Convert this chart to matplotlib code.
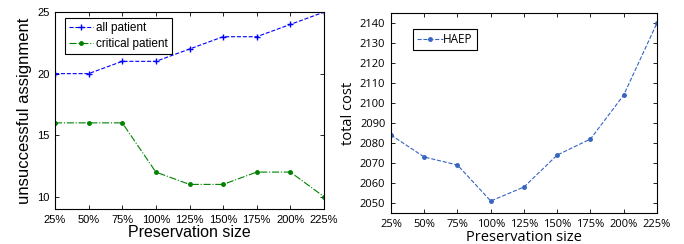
import matplotlib.pyplot as plt

# data
sizes = ['25%', '50%', '75%', '100%', '125%', '150%', '175%', '200%', '225%']
all_patient = [20, 20, 21, 21, 22, 23, 23, 24, 25]
critical_patient = [16, 16, 16, 12, 11, 11, 12, 12, 10]
haep_cost = [2084, 2073, 2069, 2051, 2058, 2074, 2082, 2104, 2140]

x = list(range(len(sizes)))

fig = plt.figure(figsize=(6.84, 2.44), dpi=100)
ax1 = fig.add_axes([0.0804, 0.1434, 0.3933, 0.807])
ax2 = fig.add_axes([0.5716, 0.127, 0.3889, 0.8197])

left_font = 'Liberation Sans'
right_font = 'Open Sans'

# left panel
ax1.plot(x, all_patient, '--+', color='blue', lw=0.8, ms=5, label='all patient')
ax1.plot(x, critical_patient, '-.', marker='.', color='green', lw=0.8, ms=5,
         label='critical patient')
ax1.set_xlim(0, len(sizes) - 1)
ax1.set_ylim(9, 25)
ax1.set_yticks([10, 15, 20, 25])
ax1.set_xticks(x)
ax1.set_xticklabels(sizes)
ax1.set_ylabel('unsuccessful assignment', fontsize=12, labelpad=4, family=left_font)
ax1.set_xlabel('Preservation size', fontsize=11.5, labelpad=0, family=left_font)
leg1 = ax1.legend(loc='upper left', prop={'family': left_font, 'size': 8.5},
                  fancybox=False, framealpha=1, edgecolor='black',
                  handlelength=2.0, handletextpad=0.3, borderpad=0.35,
                  labelspacing=0.35, borderaxespad=0,
                  bbox_to_anchor=(0.037, 0.97))
leg1.get_frame().set_linewidth(0.8)

# right panel
ax2.plot(x, haep_cost, '--', marker='.', color='#3565c0', lw=0.8, ms=5,
         label='HAEP')
ax2.set_xlim(0, len(sizes) - 1)
ax2.set_ylim(2045, 2145)
ax2.set_yticks(range(2050, 2141, 10))
ax2.set_xticks(x)
ax2.set_xticklabels(sizes)
ax2.set_ylabel('total cost', fontsize=10.5, labelpad=3, family=right_font)
ax2.set_xlabel('Preservation size', fontsize=10.5, labelpad=0, family=right_font)
leg2 = ax2.legend(loc='upper left', prop={'family': right_font, 'size': 8.5},
                  fancybox=False, framealpha=1, edgecolor='black',
                  handlelength=2.2, handletextpad=0.0, borderpad=0.35,
                  borderaxespad=0, bbox_to_anchor=(0.083, 0.92))
leg2.get_frame().set_linewidth(0.8)

for ax, fam in ((ax1, left_font), (ax2, right_font)):
    ax.tick_params(direction='in', top=True, right=True, labelsize=8,
                   length=3, width=0.6, pad=4)
    for lab in ax.get_xticklabels() + ax.get_yticklabels():
        lab.set_family(fam)
    for s in ax.spines.values():
        s.set_linewidth(0.8)

fig.savefig('out.png', dpi=100)
